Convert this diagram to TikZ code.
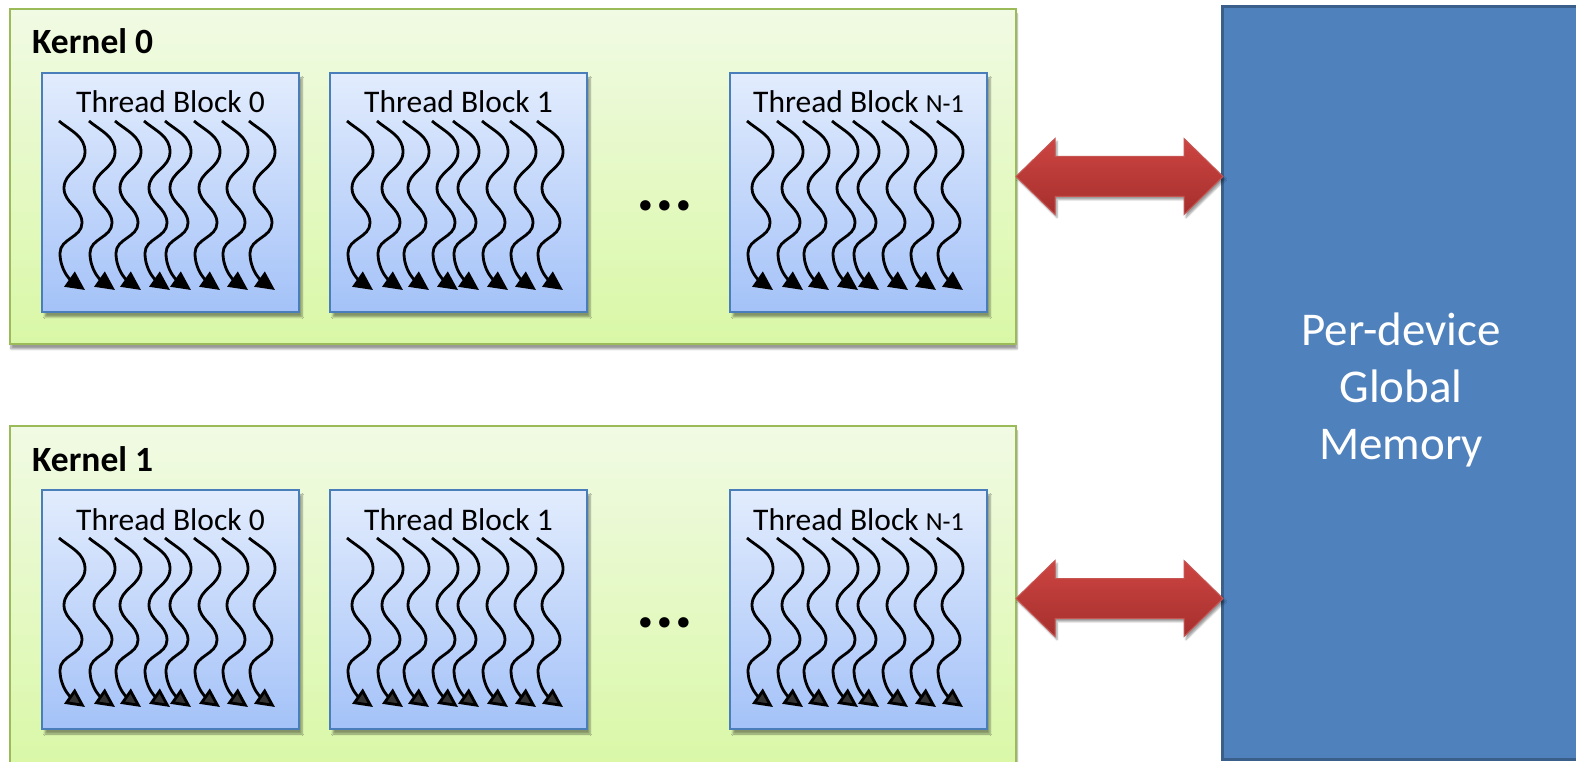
\documentclass[tikz,border=0pt]{standalone}
\usepackage{fontspec}
\setmainfont{Carlito}
\usetikzlibrary{arrows.meta,shadows.blur}

\definecolor{kernelline}{HTML}{9BBB59}
\definecolor{kerneltop}{HTML}{F1FAE4}
\definecolor{kernelbot}{HTML}{D9F8A6}
\definecolor{blockline}{HTML}{4A7EBB}
\definecolor{blocktop}{HTML}{E2ECFD}
\definecolor{blockbot}{HTML}{A4C2F8}
\definecolor{memfill}{HTML}{4F81BD}
\definecolor{memline}{HTML}{3A5F8B}
\definecolor{arrowtop}{HTML}{CD4542}
\definecolor{arrowbot}{HTML}{A52F2D}
\definecolor{arrowline}{HTML}{C65552}

\tikzset{
  kernelbox/.style={draw=kernelline, line width=2.5pt, top color=kerneltop, bottom color=kernelbot,
    anchor=north west, minimum width=1006pt, inner sep=0pt, outer sep=0pt,
    blur shadow={shadow xshift=1pt, shadow yshift=-5pt, shadow blur steps=6}},
  kernellabel/.style={anchor=base west, inner sep=0pt, font=\fontsize{35.5}{42}\selectfont\bfseries},
  blockbox/.style={draw=blockline, line width=2pt, top color=blocktop, bottom color=blockbot,
    anchor=north west, minimum width=257pt, minimum height=239pt, inner sep=0pt, outer sep=0pt,
    blur shadow={shadow xshift=3pt, shadow yshift=-5pt, shadow blur steps=5}},
  blocktitle/.style={anchor=base, inner sep=0pt, font=\fontsize{31.5}{38}\selectfont},
  thread/.style={line width=2.8pt, -{Triangle[length=19pt,width=18pt]}},
  membox/.style={draw=memline, line width=3pt, fill=memfill, anchor=north west,
    minimum width=362pt, minimum height=752pt, inner sep=0pt, outer sep=0pt},
  memtext/.style={text=white, align=center, font=\fontsize{47}{57}\selectfont},
  biarrow/.style={draw=arrowline, line width=1pt, line join=miter, top color=arrowtop, bottom color=arrowbot,
    blur shadow={shadow xshift=2pt, shadow yshift=-3pt, shadow blur steps=4}},
}

\begin{document}
\begin{tikzpicture}[x=1pt, y=1pt]
\useasboundingbox (0,0) rectangle (1576,761);

% global memory
\node[membox] (mem) at (1222,754) {};
\node[memtext] (memlabel) at (1401,371) {Per-device\\Global\\Memory};

% kernels with their thread blocks
\foreach \k/\ky/\kh in {0/752/335, 1/335/345} {
  \node[kernelbox, minimum height=\kh pt] (k\k) at (10,\ky) {};
  \node[kernellabel] (k\k-label) at ([shift={(22,-45)}]k\k.north west) {Kernel \k};
  \foreach \b/\bx/\lab in {0/32/0, 1/320/1, 2/720/{\fontsize{26}{30}\selectfont N-1}} {
    \node[blockbox] (k\k-b\b) at ([shift={(\bx,-64)}]k\k.north west) {};
    \node[blocktitle] (k\k-t\b) at ([yshift=-40pt]k\k-b\b.north) {Thread Block \lab};
    % one wavy arrow per thread
    \foreach \dx in {17,47,73,102,123,152,180,207}
      \draw[thread] ([shift={(\dx,-48)}]k\k-b\b.north west)
        to[out=-40,in=90] ++(26,-31) to[out=-90,in=90] ++(-21,-36)
        to[out=-90,in=90] ++(18,-35) to[out=-90,in=90] ++(-22,-30)
        to[out=-90,in=145] ++(25,-37);
  }
  \node[inner sep=0pt, font=\fontsize{70}{70}\selectfont\bfseries] (k\k-dots)
    at ([shift={(655,-197)}]k\k.north west) {...};
  % link to global memory
  \draw[biarrow] (k\k.east) -- ++(39,38) -- ++(0,-18) -- ++(129,0) -- ++(0,18)
    -- ++(39,-38) -- ++(-39,-38) -- ++(0,18) -- ++(-129,0) -- ++(0,-18) -- cycle;
}
\end{tikzpicture}
\end{document}
